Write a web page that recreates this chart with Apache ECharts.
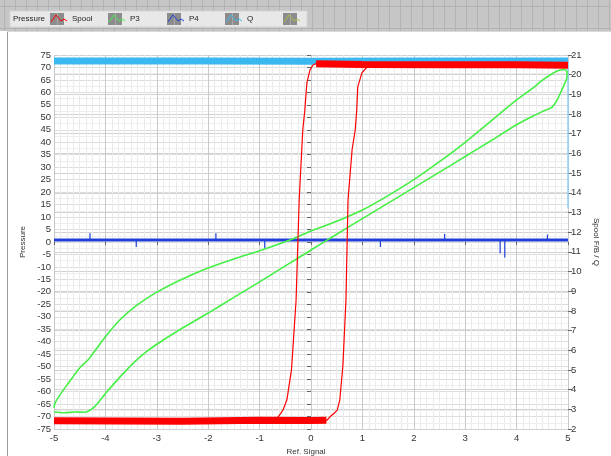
<!DOCTYPE html>
<html>
<head>
<meta charset="utf-8">
<script src="https://cdn.jsdelivr.net/npm/echarts@6/dist/echarts.min.js"></script>
<style>
  html, body { margin: 0; padding: 0; background: #fff; }
  #chart { width: 611px; height: 456px; }
</style>
</head>
<body>
<div id="chart"></div>
<script>
// legend labels of the LabVIEW plot bar
const legendNames = ["Spool", "P3", "P4", "Q", ""];

// Spool F/B (right axis): hysteresis path, thin part
const spoolLoop = [
  [0.30, 2.42], [0.37, 2.62], [0.45, 2.80], [0.51, 2.96], [0.56, 3.47], [0.62, 5.2],
  [0.68, 8.55], [0.72, 13.63], [0.80, 16.2], [0.86, 17.19], [0.89, 18.2], [0.91, 19.38],
  [0.99, 20.09], [1.09, 20.39], [1.15, 20.5], [3.0, 20.5], [5.0, 20.5],
  [3.0, 20.55], [0.12, 20.59], [0.04, 20.49], [-0.02, 20.24], [-0.08, 19.58],
  [-0.12, 18.2], [-0.16, 17.19], [-0.23, 13.63], [-0.29, 8.55], [-0.38, 5.0],
  [-0.47, 3.47], [-0.545, 2.96], [-0.64, 2.6], [-0.8, 2.45], [-5.0, 2.42]
];
// Spool noise bands (low and high level)
const spoolLow = [[-5, 2.42], [-2.5, 2.40], [-1.0, 2.44], [0.0, 2.43], [0.3, 2.45]];
const spoolHigh = [[0.1, 20.55], [1.0, 20.52], [2.5, 20.5], [4.0, 20.5], [5.0, 20.48]];

// Q (right axis)
const qTrace = [[-5, 20.7], [-2, 20.7], [0, 20.68], [2, 20.7], [5, 20.7]];
const qDrop = [[5, 20.7], [5, 13.2]];

// P4 (left axis), flat line
const p4Trace = [[-5, 0.8], [-2.5, 0.8], [0, 0.8], [2.5, 0.8], [5, 0.8]];
// P4 spikes: [x, peak]
const p4Spikes = [
  [-4.3, 3.5], [-3.4, -2], [-1.85, 3.5], [-0.9, -2.5], [1.35, -2],
  [2.6, 3.2], [3.68, -4.5], [3.77, -6.2], [4.6, 3]
];

// P3 (left axis): lower branch (rising) then upper branch (falling)
const p3Loop = [
  [-5, -68.2], [-4.8, -68.5], [-4.6, -68.2], [-4.4, -68.3], [-4.3, -67.5], [-4.2, -65.8],
  [-4.1, -63.4], [-3.95, -59.6], [-3.77, -55.4], [-3.6, -51.6], [-3.39, -47.3], [-3.2, -44],
  [-3.0, -41], [-2.5, -34.5], [-2.0, -28.5], [-1.5, -22.2], [-1.0, -16], [-0.5, -9.6],
  [0, -3.2], [0.5, 3.1], [1.0, 9.4], [1.5, 15.6], [2.0, 21.8], [2.5, 28], [3.0, 34.3],
  [3.5, 40.6], [4.0, 47], [4.3, 50.3], [4.5, 52.3], [4.69, 54.1], [4.79, 57], [4.88, 61],
  [4.94, 63.8], [4.98, 66.2], [4.98, 68.2], [4.93, 69.2], [4.85, 69.0], [4.79, 68.6],
  [4.65, 67], [4.51, 65], [4.3, 61.5], [4.0, 57], [3.5, 48.5], [3.0, 40], [2.5, 32.2],
  [2.0, 25], [1.5, 18.6], [1.0, 12.8], [0.5, 8.3], [0, 4.4], [-0.41, 0.8], [-1.0, -3.5],
  [-1.5, -6.8], [-2.0, -10.4], [-2.5, -14.8], [-3.0, -20.1], [-3.4, -25.5], [-3.72, -31.3],
  [-4.0, -38], [-4.2, -43.5], [-4.34, -47.3], [-4.49, -50.2], [-4.62, -53.8], [-4.75, -57.4],
  [-4.88, -61.2], [-4.98, -64.6], [-5, -66.5]
];

const RED = "#ff0000", GREEN = "#44f044", BLUE = "#1f3fd8", LBLUE = "#3cb8f0";

let myChart = echarts.init(document.getElementById("chart"));

// top bar of the plot (gray grid strip + legend box)
let graphic = [
  { type: "rect", left: 0, top: 0, shape: { width: 611, height: 31 }, style: { fill: "#c6c6c6" }, silent: true }
];
for (let x = 4; x < 611; x += 11) {
  graphic.push({ type: "line", shape: { x1: x + 0.5, y1: 0, x2: x + 0.5, y2: 31 }, style: { stroke: "#b3b3b3", lineWidth: 1 }, silent: true });
}
[6, 28].forEach(function (y) {
  graphic.push({ type: "line", shape: { x1: 0, y1: y + 0.5, x2: 611, y2: y + 0.5 }, style: { stroke: "#b3b3b3", lineWidth: 1 }, silent: true });
});
graphic.push({ type: "rect", shape: { x: 10, y: 11, width: 297, height: 16 }, style: { fill: "#e8e8e8", stroke: "#d4d4d4" }, silent: true });
graphic.push({ type: "line", shape: { x1: 7.5, y1: 31, x2: 7.5, y2: 456 }, style: { stroke: "#9a9a9a", lineWidth: 1 }, silent: true });
graphic.push({ type: "line", shape: { x1: 7, y1: 31.5, x2: 611, y2: 31.5 }, style: { stroke: "#d8d8d8", lineWidth: 1 }, silent: true });
graphic.push({ type: "text", style: { x: 13, y: 19, text: "Pressure", fill: "#222", font: "8px 'Liberation Sans'", verticalAlign: "middle" }, silent: true });

const iconX = [50, 108, 167, 225, 283];
const iconColors = [RED, GREEN, BLUE, LBLUE, "#a8c040"];
iconX.forEach(function (x, i) {
  graphic.push({ type: "rect", shape: { x: x, y: 13, width: 14, height: 12 }, style: { fill: "#8c8c8c" }, silent: true });
  graphic.push({ type: "line", shape: { x1: x + 7.5, y1: 13, x2: x + 7.5, y2: 25 }, style: { stroke: "#a8a8a8" }, silent: true });
  graphic.push({
    type: "polyline",
    shape: { points: [[x + 1, 22], [x + 6, 15], [x + 11, 21], [x + 14, 19], [x + 17, 21]] },
    style: { stroke: iconColors[i], lineWidth: 1, fill: null }, silent: true
  });
  if (legendNames[i]) {
    graphic.push({ type: "text", style: { x: x + 22, y: 19, text: legendNames[i], fill: "#222", font: "8px 'Liberation Sans'", verticalAlign: "middle" }, silent: true });
  }
});

const tickLabel = { fontSize: 9.5, color: "#333", fontFamily: "Liberation Sans" };

// each spike as its own thin vertical segment
let spikeSeries = p4Spikes.map(function (s) {
  return {
    name: "P4", type: "line", data: [[s[0], 0.8], [s[0], s[1]]], showSymbol: false,
    lineStyle: { color: BLUE, width: 1.2 }
  };
});

let option = {
  animation: false,
  backgroundColor: "#fff",
  graphic: graphic,
  grid: { left: 54, right: 43, top: 55, bottom: 27, outerBoundsMode: "none" },
  xAxis: {
    type: "value", min: -5, max: 5, interval: 1,
    name: "Ref. Signal", nameLocation: "middle", nameGap: 13,
    nameTextStyle: { fontSize: 8, color: "#333", fontFamily: "Liberation Sans", padding: [0, 0, 0, -10] },
    axisLine: { show: false },
    axisTick: { show: true, length: 3, lineStyle: { color: "#666" } },
    axisLabel: Object.assign({ margin: 4 }, tickLabel),
    splitLine: { show: true, lineStyle: { color: "#c9c9c9" } },
    minorTick: { show: false, splitNumber: 8 },
    minorSplitLine: { show: true, lineStyle: { color: "#ebebeb" } }
  },
  yAxis: [
    {
      type: "value", min: -75, max: 75, interval: 5,
      name: "Pressure", nameLocation: "middle", nameGap: 22,
      nameTextStyle: { fontSize: 8, color: "#333", fontFamily: "Liberation Sans" },
      axisLine: { show: false },
      axisTick: { show: true, length: 4, lineStyle: { color: "#666" } },
      axisLabel: Object.assign({ margin: 3 }, tickLabel),
      splitLine: { show: true, lineStyle: { color: "#dddddd" } },
      minorTick: { show: false, splitNumber: 2 },
      minorSplitLine: { show: true, lineStyle: { color: "#eeeeee" } }
    },
    {
      type: "value", min: 2, max: 21, interval: 1, position: "right",
      name: "Spool F/B / Q", nameLocation: "middle", nameGap: 17, nameRotate: -90,
      nameTextStyle: { fontSize: 8, color: "#333", fontFamily: "Liberation Sans" },
      axisLine: { show: false },
      axisTick: { show: true, length: 4, lineStyle: { color: "#666" } },
      axisLabel: Object.assign({ margin: 3 }, tickLabel),
      splitLine: { show: true, lineStyle: { color: "#d0d0d0" } }
    }
  ],
  series: [
    { name: "Q", type: "line", yAxisIndex: 1, data: qTrace, showSymbol: false, lineStyle: { color: LBLUE, width: 7 } },
    { name: "Q drop", type: "line", yAxisIndex: 1, data: qDrop, showSymbol: false, clip: false, lineStyle: { color: "#8fd3f2", width: 1.5 } },
    { name: "P4", type: "line", data: p4Trace, showSymbol: false, lineStyle: { color: BLUE, width: 3 } }
  ].concat(spikeSeries, [
    { name: "P3", type: "line", data: p3Loop, showSymbol: false, smooth: 0.25, lineStyle: { color: GREEN, width: 1.6 } },
    { name: "Spool band low", type: "line", yAxisIndex: 1, data: spoolLow, showSymbol: false, lineStyle: { color: RED, width: 7 } },
    { name: "Spool band high", type: "line", yAxisIndex: 1, data: spoolHigh, showSymbol: false, lineStyle: { color: RED, width: 7 } },
    { name: "Spool", type: "line", yAxisIndex: 1, data: spoolLoop, showSymbol: false, lineStyle: { color: RED, width: 1.2 } }
  ])
};

myChart.setOption(option);
</script>
</body>
</html>
